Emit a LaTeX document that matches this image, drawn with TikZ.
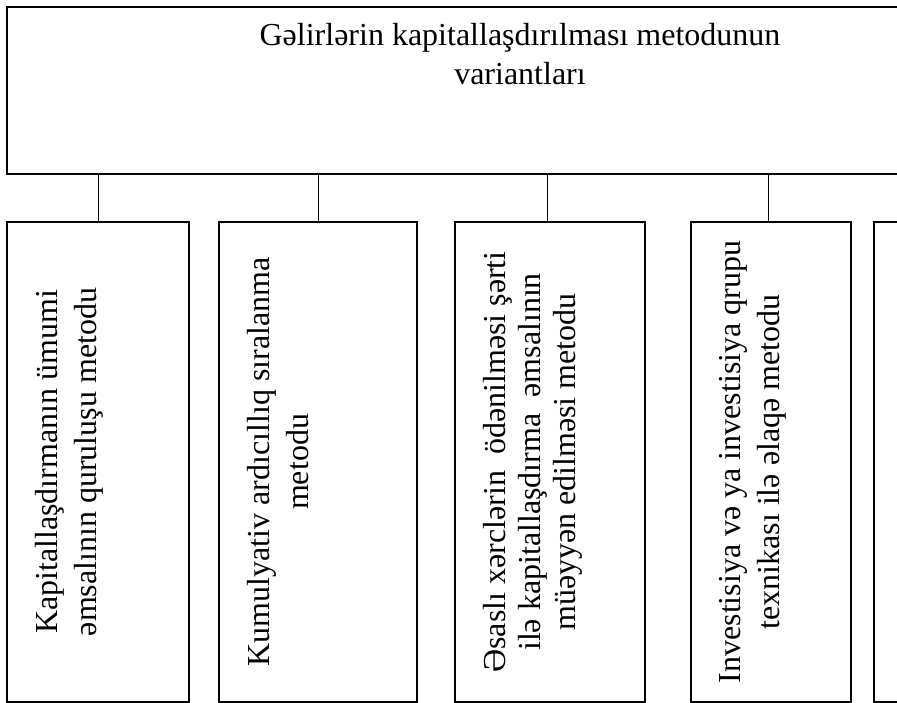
\documentclass[tikz,border=0pt]{standalone}
\usepackage{fontspec}
\setmainfont{Liberation Serif}
\usetikzlibrary{positioning}

\tikzset{
  box/.style={draw, line width=1.6pt, inner sep=0pt},
  lowbox/.style={box, minimum height=480pt},
  vtext/.style={rotate=90, anchor=north, align=center, inner sep=0pt,
                font=\fontsize{32}{39}\selectfont},
  link/.style={line width=1pt}
}

\begin{document}
\begin{tikzpicture}[x=1pt, y=1pt]

\clip (0,0) rectangle (897,703);

% top box
\node[box, minimum width=1026pt, minimum height=167pt] (top) at (520,612.5) {};
\node[anchor=north, align=center, inner sep=0pt, font=\fontsize{32}{39}\selectfont]
  (title) at ([yshift=-17]top.north) {Gəlirlərin kapitallaşdırılması metodunun\\variantları};

% lower boxes
\node[lowbox, minimum width=182pt] (b1) at (98,241) {};
\node[lowbox, minimum width=198pt] (b2) at (318,241) {};
\node[lowbox, minimum width=190pt] (b3) at (550,241) {};
\node[lowbox, minimum width=160pt] (b4) at (771,241) {};
\node[lowbox, minimum width=190pt] (b5) at (969,241) {};

\node[vtext] (t1) at ([xshift=28.5]b1.west) {Kapitallaşdırmanın ümumi\\əmsalının quruluşu metodu};
\node[vtext] (t2) at ([xshift=28.5]b2.west) {Kumulyativ ardıcıllıq sıralanma\\metodu};
\node[vtext, font=\fontsize{32}{35}\selectfont] (t3) at ([xshift=28.5]b3.west)
  {Əsaslı xərclərin\ \ ödənilməsi şərti\\ilə kapitallaşdırma\ \ əmsalının\\müəyyən edilməsi metodu};
\node[vtext] (t4) at ([xshift=28.5]b4.west) {Investisiya və ya investisiya qrupu\\texnikası ilə əlaqə metodu};

\foreach \b/\s in {b1/0, b2/0, b3/-3, b4/-3}
  \draw[link] ([xshift=\s]\b.north) -- ([xshift=\s]\b.north |- top.south);

\end{tikzpicture}
\end{document}
